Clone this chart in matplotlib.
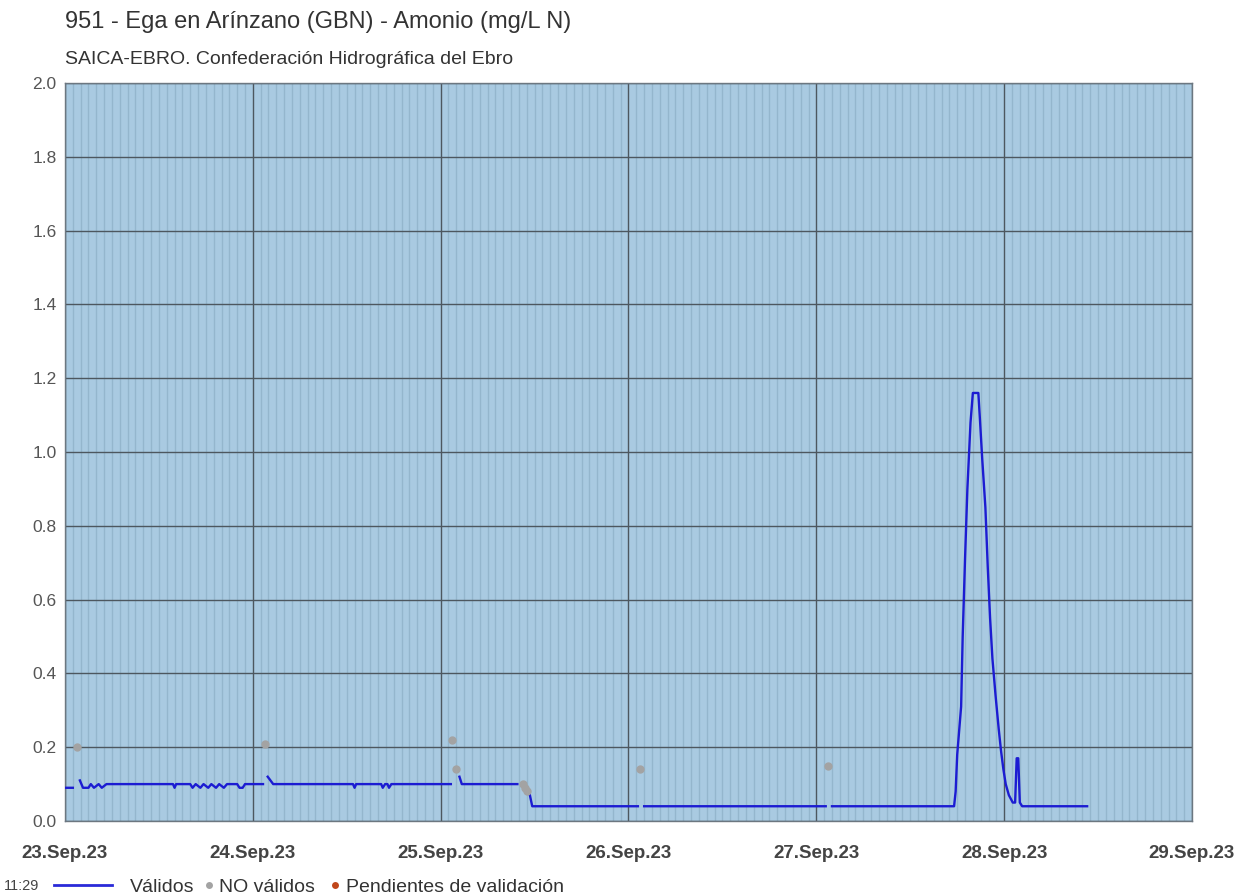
import numpy as np
import pandas as pd
import matplotlib
matplotlib.use("Agg")
import matplotlib.pyplot as plt
import matplotlib.dates as mdates
from matplotlib.lines import Line2D

plt.rcParams['font.family'] = ['Liberation Sans', 'DejaVu Sans']

# horas desde 23.Sep.23 00:00 ; nan = corte de la serie
valid_hours = [0.0, 1.0, np.nan,
               1.9, 2.3, 3.0, 3.3, 3.7, 4.3, 4.7, 5.3, 5.7, 13.8, 14.0, 14.2,
               16.0, 16.3, 16.7, 17.3, 17.7, 18.3, 18.7, 19.3, 19.7, 20.3, 20.7,
               22.0, 22.3, 22.7, 23.0, 25.3, np.nan,
               25.9, 26.6, 36.8, 37.0, 37.2, 40.4, 40.6, 40.9, 41.2, 41.4, 41.7, 49.3, np.nan,
               50.4, 50.7, 57.8, np.nan,
               59.4, 59.7, 73.2, np.nan,
               74.0, 97.2, np.nan,
               98.0, 113.6, 113.8, 114.0, 114.5, 114.7, 115.0, 115.3, 115.7, 116.0,
               116.7, 116.9, 117.2, 117.6, 117.9, 118.2, 118.5, 118.9, 119.3, 119.6,
               119.9, 120.2, 120.6, 121.1, 121.4, 121.6, 121.8, 122.0, 122.3, 130.6]
valid_vals = [0.09, 0.09, np.nan,
              0.11, 0.09, 0.09, 0.10, 0.09, 0.10, 0.09, 0.10, 0.10, 0.10, 0.09, 0.10,
              0.10, 0.09, 0.10, 0.09, 0.10, 0.09, 0.10, 0.09, 0.10, 0.09, 0.10,
              0.10, 0.09, 0.09, 0.10, 0.10, np.nan,
              0.12, 0.10, 0.10, 0.09, 0.10, 0.10, 0.09, 0.10, 0.10, 0.09, 0.10, 0.10, np.nan,
              0.12, 0.10, 0.10, np.nan,
              0.07, 0.04, 0.04, np.nan,
              0.04, 0.04, np.nan,
              0.04, 0.04, 0.08, 0.18, 0.31, 0.50, 0.71, 0.90, 1.08, 1.16,
              1.16, 1.09, 0.98, 0.85, 0.69, 0.55, 0.44, 0.34, 0.25, 0.19,
              0.14, 0.10, 0.07, 0.05, 0.05, 0.17, 0.17, 0.05, 0.04, 0.04]

invalid_hours = [1.5, 25.5, 49.5, 50.0, 58.5, 58.8, 59.0, 73.5, 97.5]
invalid_vals = [0.20, 0.21, 0.22, 0.14, 0.10, 0.09, 0.08, 0.14, 0.15]

start = pd.Timestamp('2023-09-23')
t_valid = start + pd.to_timedelta(np.nan_to_num(valid_hours), unit='h')
t_invalid = start + pd.to_timedelta(invalid_hours, unit='h')

W, H = 1252, 894
fig = plt.figure(figsize=(W / 100, H / 100), dpi=100)
ax = fig.add_axes([65 / W, 1 - 821 / H, (1192 - 65) / W, (821 - 83) / H])
ax.set_facecolor('#a9cae1')

ax.plot(t_valid, valid_vals, color='#1c1cd2', lw=1.7, zorder=4)
ax.plot(t_invalid, invalid_vals, 'o', color='#a3a3a3', ms=6, mec='none', zorder=5)

ax.set_xlim(start, start + pd.Timedelta(days=6))
ax.set_ylim(0, 2.0)
ax.xaxis.set_major_locator(mdates.DayLocator())
ax.xaxis.set_major_formatter(mdates.DateFormatter('%d.%b.%y'))
ax.xaxis.set_minor_locator(mdates.HourLocator(interval=1))
ax.set_yticks(np.arange(0, 2.01, 0.2))
ax.yaxis.set_major_formatter(matplotlib.ticker.FormatStrFormatter('%.1f'))

ax.grid(which='minor', axis='x', color='#94b6cd', lw=1.0, zorder=1)
ax.grid(which='major', axis='both', color='#4d575f', lw=1.0, zorder=2)
ax.set_axisbelow(True)
ax.tick_params(which='both', length=0)
ax.tick_params(axis='y', labelsize=12.5, labelcolor='#555555', pad=6)
ax.tick_params(axis='x', labelsize=13.5, labelcolor='#444444', pad=17)
for lab in ax.get_xticklabels():
    lab.set_fontweight('bold')
for s in ax.spines.values():
    s.set_color('#6c7780')
    s.set_linewidth(1.0)

fig.text(65 / W, 1 - 22 / H, '951 - Ega en Arínzano (GBN) - Amonio (mg/L N)', fontsize=17,
         color='#333333', va='center')
fig.text(65 / W, 1 - 59 / H, 'SAICA-EBRO. Confederación Hidrográfica del Ebro', fontsize=14,
         color='#333333', va='center')

# leyenda inferior
ly = 1 - 885 / H
fig.text(4 / W, ly, '11:29', fontsize=10.5, color='#444444', va='center_baseline')
fig.add_artist(Line2D([54 / W, 112 / W], [ly, ly], color='#2a2ad8', lw=2))
fig.text(130 / W, ly, 'Válidos', fontsize=14, color='#333333', va='center_baseline')
fig.add_artist(Line2D([209 / W], [ly], marker='o', color='#a3a3a3', ms=5, mec='none'))
fig.text(219 / W, ly, 'NO válidos', fontsize=14, color='#333333', va='center_baseline')
fig.add_artist(Line2D([335 / W], [ly], marker='o', color='#c0461a', ms=5, mec='none'))
fig.text(346 / W, ly, 'Pendientes de validación', fontsize=14, color='#333333', va='center_baseline')

fig.savefig('out.png', dpi=100, facecolor='white')
